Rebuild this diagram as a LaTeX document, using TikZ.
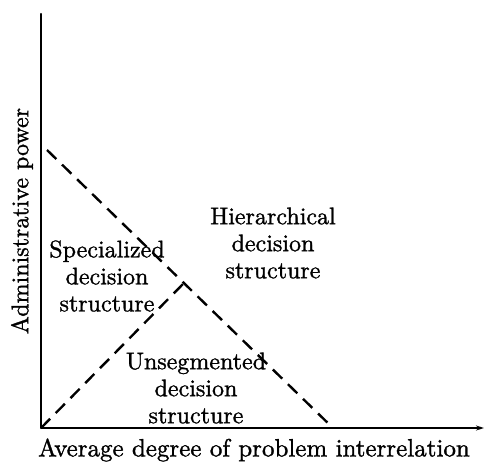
\documentclass[tikz,border=0pt]{standalone}
\usepackage{fontspec}
\usepackage{tikz}
\usetikzlibrary{arrows.meta, positioning, calc}
\newfontfamily\printfont{lmroman10-regular.otf}[FakeBold=1.2]
\tikzset{
  axis/.style={line width=2.4pt, draw=black},
  boundary/.style={line width=2.4pt, draw=black, dash pattern=on 13pt off 8pt},
  region/.style={align=center, inner sep=0pt,
    font=\printfont\fontsize{24}{27}\selectfont},
  axislabel/.style={inner sep=0pt, font=\printfont\fontsize{25}{30}\selectfont}
}

\begin{document}
\begin{tikzpicture}[x=1pt, y=-1pt]
\useasboundingbox (0,0) rectangle (490,466);

% Axes
\coordinate (origin) at (41,428);
\coordinate (ytop) at (41,14);
\coordinate (xend) at (484,428);
\draw[axis, line cap=round] (origin) -- (ytop);
\draw[line width=2pt, -{Stealth[length=8pt, width=5pt]}] (origin) -- (xend);

% Boundaries between structures
\coordinate (hstart) at (47,150);
\coordinate (hend) at (333,428);
\coordinate (peak) at (184,283);
\draw[boundary] (hstart) -- (hend);
\draw[boundary] (origin) -- (peak);

% Regions
\node[region] (hier) at (273,243) {Hierarchical\\decision\\structure};
\node[region] (spec) at (107,276) {Specialized\\decision\\structure};
\node[region] (unseg) at (196,388) {Unsegmented\\decision\\structure};

% Axis labels
\node[axislabel] (xlab) at (254,450) {Average degree of problem interrelation};
\node[axislabel, rotate=90, font=\printfont\fontsize{24}{30}\selectfont] (ylab) at (22,221) {Administrative power};

\end{tikzpicture}
\end{document}
